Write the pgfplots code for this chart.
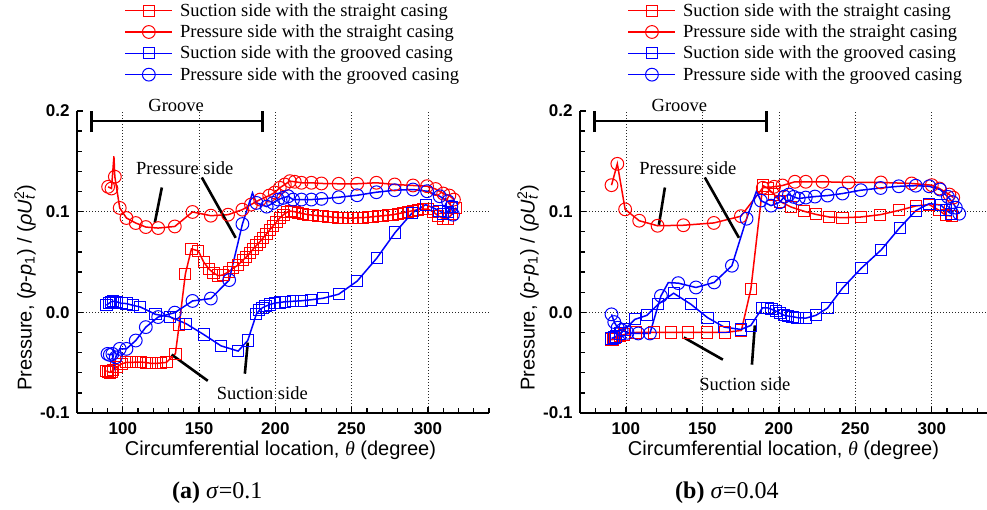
\documentclass[border=0pt]{standalone}
\usepackage{fontspec}
\setmainfont{Liberation Serif}
\newfontfamily\arial{Liberation Sans}
\usepackage{pgfplots}
\usepackage{pgfplotstable}
\pgfplotsset{compat=1.18}

\pgfplotstableread{
t p m
89.3 -0.0580 1
90.5 -0.0590 1
91.5 -0.0597 1
92.6 -0.0590 1
93.7 -0.0573 1
95.9 -0.0547 1
99.1 -0.0513 1
102.4 -0.0497 1
105.7 -0.0497 1
109.0 -0.0495 1
112.2 -0.0495 1
115.5 -0.0500 1
118.8 -0.0507 1
122.1 -0.0507 1
125.3 -0.0503 1
128.6 -0.0497 1
134.5 -0.0410 1
137.0 -0.0120 1
141.0 0.0380 1
145.0 0.0630 1
149.5 0.0610 1
153.0 0.0500 1
156.5 0.0430 1
159.5 0.0390 1
162.5 0.0365 1
165.5 0.0370 1
169.4 0.0403 1
172.3 0.0437 1
175.6 0.0470 1
178.8 0.0520 1
181.0 0.0550 1
183.3 0.0590 1
185.5 0.0630 1
187.6 0.0665 1
189.8 0.0700 1
192.0 0.0740 1
194.2 0.0780 1
196.4 0.0820 1
198.6 0.0860 1
200.8 0.0900 1
203.0 0.0940 1
205.3 0.0970 1
207.7 0.0995 1
210.0 0.1005 1
212.5 0.1000 1
215.0 0.0990 1
218.2 0.0980 1
221.5 0.0970 1
224.7 0.0965 1
228.0 0.0960 1
231.3 0.0955 1
234.6 0.0950 1
237.8 0.0945 1
241.1 0.0940 1
244.4 0.0940 1
247.7 0.0935 1
250.9 0.0935 1
254.2 0.0940 1
257.5 0.0940 1
260.8 0.0945 1
264.0 0.0950 1
267.3 0.0955 1
270.6 0.0960 1
273.9 0.0965 1
277.1 0.0970 1
280.4 0.0980 1
283.7 0.0990 1
287.0 0.1000 1
290.2 0.1010 1
293.5 0.1020 1
296.8 0.1025 1
300.0 0.1025 1
303.3 0.1000 1
306.6 0.0960 1
309.9 0.0930 1
313.0 0.0930 1
316.0 0.0980 1
318.5 0.1040 1
}\LRS

\pgfplotstableread{
t p m
90.4 0.1247 1
92.6 0.1230 1
94.2 0.1550 0
94.8 0.1347 1
98.0 0.1037 1
102.4 0.0937 1
108.5 0.0887 1
115.1 0.0847 1
123.2 0.0837 1
134.1 0.0853 1
145.7 0.0997 1
157.7 0.0960 1
169.0 0.0970 1
178.4 0.1020 1
184.0 0.1070 1
190.0 0.1120 1
196.0 0.1160 1
199.6 0.1190 1
202.9 0.1237 1
206.2 0.1270 1
209.5 0.1303 1
212.7 0.1297 1
217.1 0.1287 1
223.6 0.1287 1
230.2 0.1280 1
241.5 0.1277 1
253.6 0.1277 1
266.2 0.1287 1
278.2 0.1270 1
290.2 0.1260 1
299.4 0.1253 1
305.0 0.1225 1
310.0 0.1180 1
314.0 0.1160 1
317.0 0.1120 1
}\LRC

\pgfplotstableread{
t p m
89.3 0.0070 1
91.0 0.0090 1
92.3 0.0105 1
93.7 0.0110 1
95.9 0.0105 1
99.1 0.0090 1
102.4 0.0087 1
106.5 0.0070 1
111.5 0.0053 1
121.5 -0.0020 1
131.0 -0.0045 1
141.5 -0.0113 1
153.0 -0.0220 1
164.4 -0.0333 1
175.6 -0.0385 1
181.9 -0.0280 1
187.5 -0.0020 1
189.5 0.0020 1
191.5 0.0045 1
193.5 0.0060 1
196.5 0.0078 1
199.6 0.0092 1
202.9 0.0098 1
206.2 0.0105 1
211.6 0.0110 1
217.1 0.0115 1
223.6 0.0125 1
231.3 0.0140 1
241.5 0.0180 1
253.6 0.0310 1
266.4 0.0537 1
278.5 0.0793 1
289.6 0.0987 1
298.5 0.1070 1
307.5 0.1010 1
310.0 0.0980 1
313.0 0.1000 1
316.0 0.1045 1
}\LBS

\pgfplotstableread{
t p m
90.0 -0.0413 1
91.5 -0.0423 1
93.2 -0.0413 1
94.3 -0.0550 0
95.4 -0.0447 1
98.0 -0.0363 1
102.4 -0.0363 1
108.5 -0.0280 1
115.1 -0.0147 1
123.2 -0.0047 1
134.1 -0.0003 1
145.7 0.0113 1
157.7 0.0137 1
169.7 0.0320 1
178.4 0.0877 1
185.0 0.1187 0
187.6 0.1087 1
194.3 0.1050 1
198.5 0.1087 1
201.8 0.1120 1
205.1 0.1137 1
208.4 0.1153 1
211.6 0.1120 1
217.1 0.1120 1
223.6 0.1120 1
230.2 0.1127 1
241.5 0.1143 1
253.6 0.1163 1
266.2 0.1193 1
278.2 0.1213 1
290.2 0.1220 1
299.4 0.1203 1
307.7 0.1153 1
313.1 0.1103 1
315.3 0.1050 1
316.4 0.0970 1
}\LBC

\pgfplotstableread{
t p m
90.2 -0.0270 1
91.5 -0.0270 1
93.0 -0.0255 1
96.0 -0.0235 1
99.0 -0.0220 1
106.5 -0.0200 1
118.5 -0.0200 1
129.5 -0.0200 1
140.7 -0.0200 1
153.0 -0.0200 1
164.7 -0.0200 1
175.5 -0.0180 1
181.7 0.0230 1
189.5 0.1260 1
193.0 0.1230 1
197.0 0.1170 1
201.0 0.1100 1
207.8 0.1047 1
216.6 0.1003 1
224.2 0.0973 1
232.9 0.0947 1
241.6 0.0940 1
253.6 0.0947 1
266.3 0.0970 1
278.7 0.1013 1
289.6 0.1057 1
298.3 0.1070 1
304.8 0.1013 1
309.2 0.0963 1
313.0 0.0957 1
}\RRS

\pgfplotstableread{
t p m
90.6 0.1263 1
94.4 0.1475 1
99.5 0.1023 1
108.7 0.0910 1
120.7 0.0860 1
137.6 0.0865 1
157.5 0.0888 1
175.2 0.0955 1
189.5 0.1237 1
196.9 0.1247 1
202.4 0.1260 1
210.5 0.1297 1
217.6 0.1297 1
228.5 0.1297 1
245.5 0.1290 1
266.7 0.1290 1
286.8 0.1280 1
300.0 0.1263 1
305.0 0.1230 1
311.5 0.1170 1
314.0 0.1140 1
}\RRC

\pgfplotstableread{
t p m
90.6 -0.0260 1
92.0 -0.0250 1
93.5 -0.0240 1
96.0 -0.0210 1
99.3 -0.0170 1
105.9 -0.0070 1
113.7 -0.0030 1
121.1 0.0080 1
131.2 0.0190 1
142.5 0.0080 1
153.4 -0.0053 1
164.3 -0.0147 1
175.2 -0.0170 1
181.7 -0.0130 1
189.3 0.0045 1
192.6 0.0045 1
195.2 0.0030 1
198.0 0.0013 1
200.9 -0.0010 1
203.5 -0.0030 1
206.1 -0.0037 1
208.9 -0.0043 1
212.2 -0.0053 1
217.6 -0.0058 1
224.2 -0.0030 1
231.8 0.0042 1
241.6 0.0240 1
254.0 0.0440 1
266.9 0.0620 1
279.0 0.0840 1
289.5 0.1010 1
298.3 0.1080 1
306.0 0.1065 1
309.5 0.1013 1
312.5 0.0980 1
}\RBS

\pgfplotstableread{
t p m
90.6 -0.0020 1
92.4 -0.0097 1
94.6 -0.0153 1
97.2 -0.0177 1
101.1 -0.0203 1
108.1 -0.0210 1
115.7 -0.0210 1
122.9 0.0163 1
127.7 0.0295 0
134.2 0.0290 1
145.8 0.0247 1
157.7 0.0297 1
169.3 0.0463 1
178.9 0.0930 1
185.4 0.1205 0
188.2 0.1110 1
194.9 0.1060 1
200.5 0.1093 1
203.7 0.1150 1
206.6 0.1170 1
209.7 0.1147 1
213.0 0.1130 1
217.6 0.1140 1
223.6 0.1150 1
231.8 0.1160 1
241.6 0.1180 1
253.6 0.1213 1
266.5 0.1235 1
278.4 0.1252 1
289.5 0.1258 1
298.3 0.1252 1
305.4 0.1220 1
310.5 0.1147 1
313.5 0.1095 1
315.7 0.1040 1
317.9 0.0980 1
}\RBC

\newcommand{\tickfont}{\arial\bfseries\fontsize{17}{17}\selectfont}
\newcommand{\labfont}{\arial\fontsize{20}{22}\selectfont}
\newcommand{\annfont}{\fontsize{18.5}{20}\selectfont}

\pgfplotsset{
  rsq/.style={red, line width=1.5pt, mark=square, mark size=5.6pt, mark options={fill=white, line width=1.0pt, solid}},
  rci/.style={red, line width=1.5pt, mark=o, mark size=6.4pt, mark options={fill=white, line width=1.0pt, solid}},
  bsq/.style={blue, line width=1.5pt, mark=square, mark size=5.6pt, mark options={fill=white, line width=1.0pt, solid}},
  bci/.style={blue, line width=1.5pt, mark=o, mark size=6.4pt, mark options={fill=white, line width=1.0pt, solid}},
  onlym/.style={only marks, forget plot, restrict expr to domain={\thisrow{m}}{0.5:1.5}},
  panel/.style={
    scale only axis, height=302pt,
    xmin=70, xmax=340, ymin=-0.1, ymax=0.2,
    axis x line*=bottom, axis y line*=left,
    axis line style={line width=1.5pt, black},
    tick align=inside,
    major tick length=6pt, minor tick length=4.5pt,
    every tick/.style={line width=1.3pt, black},
    xtick={100,150,200,250,300},
    minor xtick={70,80,90,110,120,130,140,160,170,180,190,210,220,230,240,260,270,280,290,310,320,330,340},
    ytick={-0.1,0,0.1,0.2},
    minor ytick={-0.08,-0.06,-0.04,-0.02,0.02,0.04,0.06,0.08,0.12,0.14,0.16,0.18},
    xmajorgrids,
    extra y ticks={0,0.1}, extra y tick labels={},
    extra y tick style={grid=major},
    major grid style={black!85, line width=0.7pt, dash pattern=on 1pt off 2pt},
    ticklabel style={font=\tickfont},
    /pgf/number format/assume math mode=true,
    yticklabel style={/pgf/number format/.cd, fixed, fixed zerofill, precision=1, /tikz/.cd, xshift=-4pt},
    xticklabel style={yshift=-6pt},
    clip=false,
    legend cell align=left,
    legend style={at={(axis description cs:0.115,1.36)}, anchor=north west, draw=none, fill=none,
      inner sep=0pt, row sep=5pt, font=\annfont, nodes={inner sep=1pt},
      /tikz/every odd column/.append style={column sep=6pt}},
    legend image code/.code={\draw[mark repeat=2,mark phase=2] plot coordinates {(0pt,0pt) (23.5pt,0pt) (47pt,0pt)};},
  },
}

\begin{document}
\begin{tikzpicture}
% ---------------- (a) sigma = 0.1
\begin{axis}[panel, width=412pt, at={(77pt,97pt)}, anchor=south west]
\addlegendimage{rsq}\addlegendentry{Suction side with the straight casing}
\addlegendimage{rci}\addlegendentry{Pressure side with the straight casing}
\addlegendimage{bsq}\addlegendentry{Suction side with the grooved casing}
\addlegendimage{bci}\addlegendentry{Pressure side with the grooved casing}
\addplot[red, line width=1.5pt, forget plot] table[x=t,y=p] {\LRS};
\addplot[rsq, onlym] table[x=t,y=p] {\LRS};
\addplot[red, line width=1.5pt, forget plot] table[x=t,y=p] {\LRC};
\addplot[rci, onlym] table[x=t,y=p] {\LRC};
\addplot[blue, line width=1.5pt, forget plot] table[x=t,y=p] {\LBS};
\addplot[bsq, onlym] table[x=t,y=p] {\LBS};
\addplot[blue, line width=1.5pt, forget plot] table[x=t,y=p] {\LBC};
\addplot[bci, onlym] table[x=t,y=p] {\LBC};
% annotations
\draw[line width=2.8pt] (axis cs:79.5,0.19) -- (axis cs:191.8,0.19);
\draw[line width=2.8pt] (axis cs:79.5,0.179) -- (axis cs:79.5,0.200);
\draw[line width=2.8pt] (axis cs:191.8,0.179) -- (axis cs:191.8,0.200);
\node[font=\annfont] at (axis cs:135,0.205) {Groove};
\node[font=\annfont] at (axis cs:140.6,0.143) {Pressure side};
\draw[line width=2.6pt] (axis cs:125.6,0.124) -- (axis cs:121,0.089);
\draw[line width=2.6pt] (axis cs:151.8,0.134) -- (axis cs:174,0.074);
\node[font=\annfont] at (axis cs:191.4,-0.080) {Suction side};
\draw[line width=2.6pt] (axis cs:132,-0.042) -- (axis cs:155.7,-0.068);
\draw[line width=2.6pt] (axis cs:181.9,-0.030) -- (axis cs:180,-0.061);
\end{axis}
% ---------------- (b) sigma = 0.04
\begin{axis}[panel, width=413pt, at={(580pt,97pt)}, anchor=south west]
\addlegendimage{rsq}\addlegendentry{Suction side with the straight casing}
\addlegendimage{rci}\addlegendentry{Pressure side with the straight casing}
\addlegendimage{bsq}\addlegendentry{Suction side with the grooved casing}
\addlegendimage{bci}\addlegendentry{Pressure side with the grooved casing}
\addplot[red, line width=1.5pt, forget plot] table[x=t,y=p] {\RRS};
\addplot[rsq, onlym] table[x=t,y=p] {\RRS};
\addplot[red, line width=1.5pt, forget plot] table[x=t,y=p] {\RRC};
\addplot[rci, onlym] table[x=t,y=p] {\RRC};
\addplot[blue, line width=1.5pt, forget plot] table[x=t,y=p] {\RBS};
\addplot[bsq, onlym] table[x=t,y=p] {\RBS};
\addplot[blue, line width=1.5pt, forget plot] table[x=t,y=p] {\RBC};
\addplot[bci, onlym] table[x=t,y=p] {\RBC};
\draw[line width=2.8pt] (axis cs:79.7,0.19) -- (axis cs:192,0.19);
\draw[line width=2.8pt] (axis cs:79.7,0.179) -- (axis cs:79.7,0.200);
\draw[line width=2.8pt] (axis cs:192,0.179) -- (axis cs:192,0.200);
\node[font=\annfont] at (axis cs:135,0.205) {Groove};
\node[font=\annfont] at (axis cs:140.5,0.143) {Pressure side};
\draw[line width=2.6pt] (axis cs:125.5,0.124) -- (axis cs:121.6,0.087);
\draw[line width=2.6pt] (axis cs:151.6,0.134) -- (axis cs:173.9,0.074);
\node[font=\annfont] at (axis cs:177.8,-0.071) {Suction side};
\draw[line width=2.6pt] (axis cs:137.9,-0.025) -- (axis cs:163.4,-0.047);
\draw[line width=2.6pt] (axis cs:184.3,-0.013) -- (axis cs:182.4,-0.052);
\end{axis}
% labels
\node[font=\labfont] at (280.5pt,60pt) {Circumferential location, {\rmfamily\itshape θ} (degree)};
\node[font=\labfont] at (783.5pt,60pt) {Circumferential location, {\rmfamily\itshape θ} (degree)};
\node[font=\labfont, rotate=90] at (25pt,222pt) {Pressure, (\textit{p}-\textit{p}\textsubscript{1}) / (\textit{ρU}\rlap{\textsubscript{\textit{t}}}\textsuperscript{2})};
\node[font=\labfont, rotate=90] at (528pt,222pt) {Pressure, (\textit{p}-\textit{p}\textsubscript{1}) / (\textit{ρU}\rlap{\textsubscript{\textit{t}}}\textsuperscript{2})};
\node[anchor=base west, font=\fontsize{24}{26}\selectfont, inner sep=0pt] at (172pt,11pt) {\textbf{(a)} \textit{σ}=0.1};
\node[anchor=base west, font=\fontsize{24}{26}\selectfont, inner sep=0pt] at (675pt,11pt) {\textbf{(b)} \textit{σ}=0.04};
\pgfresetboundingbox
\useasboundingbox (0pt,0pt) rectangle (987pt,510pt);
\end{tikzpicture}
\end{document}
